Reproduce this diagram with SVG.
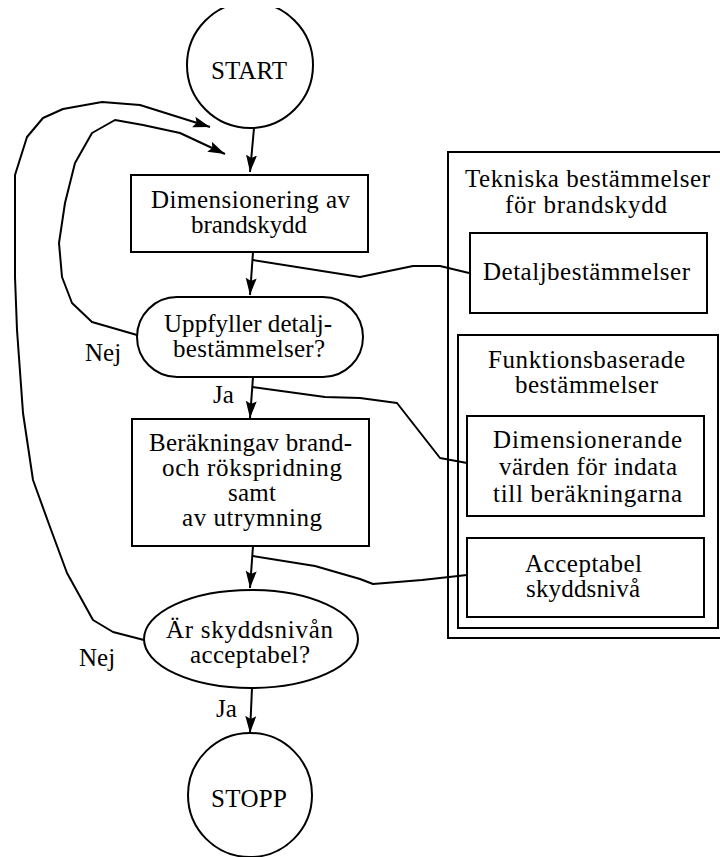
<svg xmlns="http://www.w3.org/2000/svg" width="720" height="857" viewBox="0 0 720 857">
  <style>
    .shape { fill: #ffffff; stroke: #000000; stroke-width: 2; }
    .cluster { fill: none; stroke: #000000; stroke-width: 2; }
    .edge { fill: none; stroke: #000000; stroke-width: 2; stroke-linejoin: round; }
    text { font-family: "Liberation Serif", "Times New Roman", serif; font-size: 25px; fill: #000000; }
  </style>
  <defs>
    <marker id="arrow" markerUnits="userSpaceOnUse" markerWidth="18" markerHeight="12" refX="17" refY="6" orient="auto">
      <path d="M0,0.5 L17,6 L0,11.5 L3,6 Z" fill="#000000"/>
    </marker>
    <clipPath id="page">
      <rect x="0" y="8" width="720" height="849"/>
    </clipPath>
  </defs>

  <!-- clusters -->
  <g id="cluster-tekniska">
    <rect class="cluster" x="448" y="152" width="280" height="486"/>
    <text x="465" y="187" textLength="245" lengthAdjust="spacing">Tekniska bestämmelser</text>
    <text x="505" y="213" textLength="162" lengthAdjust="spacing">för brandskydd</text>
  </g>
  <g id="cluster-funktion">
    <rect class="cluster" x="458" y="335" width="260" height="293"/>
    <text x="488" y="368" textLength="197" lengthAdjust="spacing">Funktionsbaserade</text>
    <text x="515" y="393" textLength="143" lengthAdjust="spacing">bestämmelser</text>
  </g>

  <!-- connectors -->
  <g id="edges">
    <path class="edge" d="M254,128 L250,172" marker-end="url(#arrow)"/>
    <path class="edge" d="M253,252 L250,295" marker-end="url(#arrow)"/>
    <path class="edge" d="M253,377 L250,418" marker-end="url(#arrow)"/>
    <path class="edge" d="M253,546 L250,588" marker-end="url(#arrow)"/>
    <path class="edge" d="M252,688 L250,733" marker-end="url(#arrow)"/>
    <!-- Nej loop from first question -->
    <path class="edge" d="M137,335 L92,322 L72,303 L62,277 L59,243 L65,203 L75,163 L92,133 L115,120 L143,125 L180,133 L225,154" marker-end="url(#arrow)"/>
    <!-- Nej loop from second question -->
    <path class="edge" d="M144,640 L113,632 L93,620 L67,573 L50,527 L33,480 L23,413 L17,330 L15,277 L15,175 L27,137 L43,118 L63,109 L102,102 L140,105 L210,127" marker-end="url(#arrow)"/>
    <!-- links to the regulations -->
    <path class="edge" d="M253,260 L360,277 L413,266 L440,266 L469,273"/>
    <path class="edge" d="M252,387 L325,397 L360,398 L397,403 L440,458 L467,463"/>
    <path class="edge" d="M253,556 L315,566 L360,579 L373,584 L422,580 L467,575"/>
  </g>

  <!-- nodes -->
  <g id="start" clip-path="url(#page)">
    <circle class="shape" cx="250" cy="65" r="63"/>
    <text x="211" y="79" textLength="76" lengthAdjust="spacing">START</text>
  </g>
  <g id="dimensionering">
    <rect class="shape" x="131" y="175" width="237" height="77"/>
    <text x="151" y="208" textLength="199" lengthAdjust="spacing">Dimensionering av</text>
    <text x="191" y="233" textLength="116" lengthAdjust="spacing">brandskydd</text>
  </g>
  <g id="uppfyller">
    <rect class="shape" x="137" y="297" width="226" height="80" rx="40" ry="40"/>
    <text x="164" y="332" textLength="168" lengthAdjust="spacing">Uppfyller detalj-</text>
    <text x="173" y="357" textLength="152" lengthAdjust="spacing">bestämmelser?</text>
  </g>
  <g id="berakning">
    <rect class="shape" x="132" y="419" width="237" height="127"/>
    <text x="149" y="451" textLength="203" lengthAdjust="spacing">Beräkningav brand-</text>
    <text x="162" y="476" textLength="180" lengthAdjust="spacing">och rökspridning</text>
    <text x="228" y="501" textLength="48" lengthAdjust="spacing">samt</text>
    <text x="182" y="526" textLength="140" lengthAdjust="spacing">av utrymning</text>
  </g>
  <g id="acceptabel-fraga">
    <ellipse class="shape" cx="251" cy="639" rx="107" ry="49"/>
    <text x="166" y="638" textLength="167" lengthAdjust="spacing">Är skyddsnivån</text>
    <text x="190" y="663" textLength="120" lengthAdjust="spacing">acceptabel?</text>
  </g>
  <g id="stopp">
    <circle class="shape" cx="250" cy="795" r="62"/>
    <text x="211" y="807" textLength="76" lengthAdjust="spacing">STOPP</text>
  </g>
  <g id="detaljbestammelser">
    <rect class="shape" x="470" y="233" width="237" height="80"/>
    <text x="483" y="280" textLength="207" lengthAdjust="spacing">Detaljbestämmelser</text>
  </g>
  <g id="dimensionerande">
    <rect class="shape" x="467" y="416" width="237" height="100"/>
    <text x="493" y="448" textLength="189" lengthAdjust="spacing">Dimensionerande</text>
    <text x="499" y="475" textLength="178" lengthAdjust="spacing">värden för indata</text>
    <text x="493" y="502" textLength="189" lengthAdjust="spacing">till beräkningarna</text>
  </g>
  <g id="skyddsniva">
    <rect class="shape" x="467" y="538" width="237" height="79"/>
    <text x="525" y="572" textLength="117" lengthAdjust="spacing">Acceptabel</text>
    <text x="526" y="597" textLength="114" lengthAdjust="spacing">skyddsnivå</text>
  </g>

  <!-- edge labels -->
  <g id="labels">
    <text x="85" y="361">Nej</text>
    <text x="213" y="403">Ja</text>
    <text x="79" y="666">Nej</text>
    <text x="216" y="717">Ja</text>
  </g>
</svg>
